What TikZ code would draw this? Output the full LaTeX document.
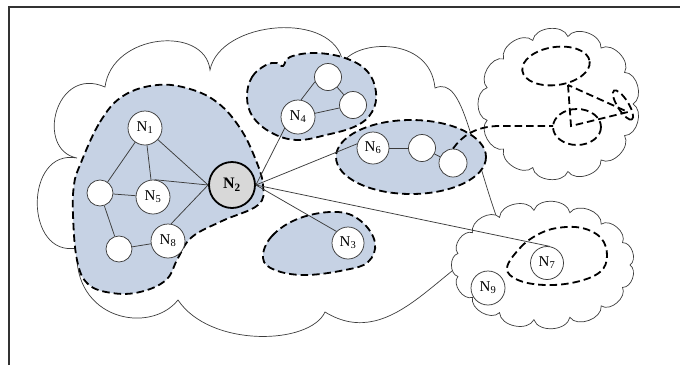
\documentclass[tikz,border=0pt]{standalone}
\usepackage{fontspec}
\setmainfont{Liberation Serif}
\definecolor{regionblue}{RGB}{198,210,228}
\definecolor{hubgray}{RGB}{216,216,216}
\definecolor{linegray}{RGB}{60,60,60}
\begin{document}
\begin{tikzpicture}[x=1pt,y=-1pt,
  frameline/.style={draw=black!80, line width=1.2pt},
  cloudline/.style={draw=linegray, line width=0.7pt, fill=white},
  region/.style={fill=regionblue, draw=black, line width=1.8pt, dash pattern=on 7.5pt off 4pt},
  dashline/.style={draw=black, line width=1.8pt, dash pattern=on 7.5pt off 4pt},
  netnode/.style={circle, draw=linegray, line width=0.75pt, fill=white, inner sep=0pt,
    font=\fontsize{15pt}{15pt}\selectfont},
  hub/.style={circle, draw=black, line width=1.8pt, fill=hubgray, inner sep=0pt,
    minimum size=46pt, font=\fontsize{16pt}{16pt}\selectfont\bfseries},
  link/.style={draw=linegray, line width=0.75pt},
]
\useasboundingbox (0,0) rectangle (680,365);

% frame
\draw[frameline] (9,365) -- (9,7) -- (680,7);

% big cloud
\path[cloudline] (77,248)
  .. controls (24,258) and (24,148) .. (77,158)
  .. controls (35,150) and (55,65) .. (105,87)
  .. controls (112,33) and (205,25) .. (210,70)
  .. controls (220,20) and (335,10) .. (343,63)
  .. controls (355,40) and (430,35) .. (435,88)
  .. controls (465,75) and (470,150) .. (505,240)
  .. controls (445,255) and (395,355) .. (325,312)
  .. controls (310,345) and (210,348) .. (178,300)
  .. controls (150,335) and (72,320) .. (77,248) -- cycle;

% small clouds
\path[cloudline] (633,104) \foreach \k in {1,...,13} {
  to[bend left=75] ({559+74*cos(\k*360/13)},{104+68*sin(\k*360/13)}) } -- cycle;
\path[cloudline] (630,265) \foreach \k in {1,...,15} {
  to[bend left=75] ({543+87*cos(\k*24)},{265+55*sin(\k*24)}) } -- cycle;

% shaded groups
\path[region] plot[smooth cycle, tension=0.65] coordinates {
  (80,165) (100,122) (123,96) (157,85) (190,89) (218,103) (240,128) (255,158)
  (263,185) (258,205) (222,221) (192,237) (178,258) (166,280) (140,292)
  (112,293) (88,284) (77,260) (73,215) (74,185)};
\path[region] plot[smooth cycle, tension=0.65] coordinates {
  (247,97) (252,77) (266,65) (277,63) (283,66) (290,57) (315,53) (345,58)
  (367,71) (376,92) (372,112) (356,126) (326,135) (297,140) (272,133) (253,117)};
\path[region] (411,157) ellipse [x radius=75, y radius=37];
\path[region] plot[smooth cycle, tension=0.65] coordinates {
  (263,258) (272,236) (300,218) (338,212) (362,222) (375,243) (368,262)
  (345,270) (305,275) (275,270)};

% dashed structures in the right clouds
\draw[dashline, rotate around={8:(556,66)}] (556,66) ellipse [x radius=34, y radius=19];
\draw[dashline] (577,127) ellipse [x radius=24, y radius=18];
\draw[dashline, rotate around={-58:(623,105)}] (623,105) ellipse [x radius=17, y radius=5.5];
\coordinate (tA) at (568,85);
\coordinate (tB) at (571,126);
\coordinate (tC) at (628,112);
\coordinate (lpW) at (553,126);
\draw[dashline] (tA) -- (tB) -- (tC) -- cycle;
\draw[dashline] plot[smooth cycle, tension=0.65] coordinates {
  (507,268) (520,248) (537,235) (557,228) (582,228) (601,238) (607,256)
  (600,272) (576,282) (545,285) (518,280)};

% nodes
\node[netnode, minimum size=34pt] (n1) at (145,128) {N\textsubscript{1}};
\node[netnode, minimum size=26pt] (a1) at (100,193) {};
\node[netnode, minimum size=34pt] (n5) at (153,197) {N\textsubscript{5}};
\node[netnode, minimum size=26pt] (a2) at (119,249) {};
\node[netnode, minimum size=34pt] (n8) at (168,241) {N\textsubscript{8}};
\node[hub] (n2) at (232,185) {N\textsubscript{2}};
\node[netnode, minimum size=34pt] (n4) at (298,117) {N\textsubscript{4}};
\node[netnode, minimum size=27pt] (b1) at (328,77) {};
\node[netnode, minimum size=27pt] (b2) at (353,105) {};
\node[netnode, minimum size=32pt] (n6) at (373,148) {N\textsubscript{6}};
\node[netnode, minimum size=27pt] (c1) at (422,148) {};
\node[netnode, minimum size=28pt] (c2) at (453,163) {};
\node[netnode, minimum size=32pt] (n3) at (348,243) {N\textsubscript{3}};
\node[netnode, minimum size=33pt] (n7) at (547,263) {N\textsubscript{7}};
\node[netnode, minimum size=34pt] (n9) at (488,288) {N\textsubscript{9}};

% links
\draw[link] (n1) -- (a1);
\draw[link] (n1) -- (n5);
\draw[link] (n1) -- (n2.west);
\draw[link] (n5.85) -- (n2.west);
\draw[link] (n8.80) -- (n2.west);
\draw[link] (a1) -- (n5);
\draw[link] (a1) -- (a2);
\draw[link] (a2) -- (n8);
\draw[link] (n4.80) -- (b1.200);
\draw[link] (n4) -- (b2);
\draw[link] (b1) -- (b2);
\draw[link] (n6) -- (c1);
\draw[link] (c1) -- (c2);
\draw[link] (n2.east) -- (n4.220);
\draw[link] (n2.east) -- (n6.165);
\draw[link] (n2.east) -- (n3.135);
\draw[link] (n2.east) -- (n7.80);

% dashed connector to right cloud
\draw[dashline] (c2.north) .. controls (462,136) and (475,127) .. (497,126) -- (lpW);
\end{tikzpicture}
\end{document}
